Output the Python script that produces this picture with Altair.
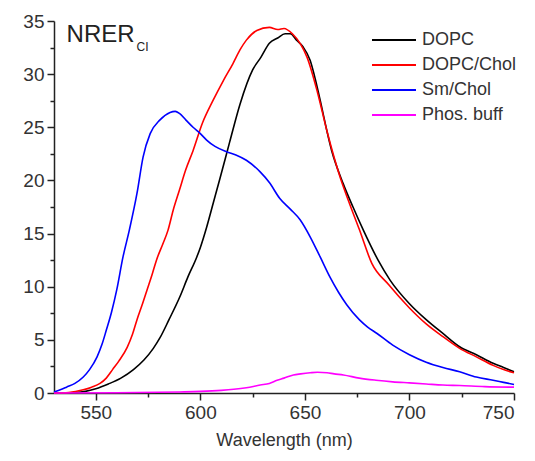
import altair as alt
import pandas as pd

dopc_nm = [530, 540, 545, 550, 556, 562, 568, 573, 577.5, 580.7, 585, 590.3, 594, 598.3, 600, 603, 606.2, 609.4, 614, 619, 625, 629, 633, 637, 640.5, 643, 646, 649, 652.5, 655, 657, 662.8, 668.3, 673, 678, 685, 690.8, 700, 708, 716, 724, 732, 740, 745, 750]
dopc_v = [0.0, 0.05, 0.15, 0.4, 0.85, 1.4, 2.2, 3.1, 4.2, 5.2, 6.9, 9.1, 10.9, 12.8, 13.7, 15.6, 17.9, 20.2, 23.6, 27.2, 30.4, 31.6, 32.9, 33.4, 33.8, 33.8, 33.2, 32.6, 31.3, 29.5, 27.8, 22.8, 19.7, 17.5, 15.3, 12.5, 10.6, 8.4, 6.9, 5.6, 4.35, 3.6, 2.8, 2.4, 2.0]

chol_nm = [530, 537, 544, 548, 552, 555, 558, 561, 565, 567.5, 569.7, 572, 574.5, 577, 579, 582, 584.5, 587, 590, 593, 596.5, 601, 606, 611, 615.6, 619, 622, 627, 633, 637, 640, 644, 648, 651, 656, 660.6, 667, 671, 676, 682, 690, 700, 708, 716, 724, 732, 740, 745, 750]
chol_v = [0.0, 0.05, 0.3, 0.55, 0.9, 1.4, 2.2, 3.0, 4.3, 5.5, 6.9, 8.2, 9.7, 11.2, 12.5, 14.0, 15.3, 17.2, 19.1, 21.0, 22.8, 25.4, 27.5, 29.4, 31.0, 32.3, 33.2, 34.1, 34.4, 34.2, 34.3, 33.8, 32.8, 31.6, 28.3, 24.6, 20.2, 18.0, 15.4, 12.2, 10.2, 8.0, 6.5, 5.3, 4.2, 3.4, 2.6, 2.2, 1.9]

sm_nm = [530, 533, 536, 540, 544, 547, 550.6, 553, 555, 557.5, 560, 563, 566, 569.7, 572.6, 576, 580.7, 585.5, 588, 590, 593, 596.5, 600, 603, 607, 612.6, 617, 622, 628.6, 633, 638, 643, 647.7, 652.5, 657.3, 662, 666, 670, 676, 680, 684.5, 692, 700, 708, 716, 724, 732, 740, 745, 750]
sm_v = [0.1, 0.3, 0.55, 0.9, 1.5, 2.2, 3.4, 4.6, 5.9, 7.6, 9.7, 12.8, 15.3, 18.8, 22.2, 24.4, 25.7, 26.4, 26.5, 26.3, 25.7, 25.0, 24.4, 23.8, 23.2, 22.7, 22.4, 21.9, 20.8, 19.8, 18.3, 17.3, 16.3, 14.7, 12.8, 10.9, 9.5, 8.3, 6.9, 6.2, 5.6, 4.5, 3.6, 2.9, 2.4, 2.0, 1.5, 1.2, 1.0, 0.8]

buff_nm = [530, 560, 590, 600, 610, 616, 622, 628.6, 633, 636.7, 640, 644.5, 648, 652.5, 656, 660.6, 664, 668.4, 676, 684, 692, 700, 708, 716, 724, 736, 750]
buff_v = [0.0, 0.02, 0.1, 0.15, 0.25, 0.35, 0.5, 0.75, 0.9, 1.2, 1.4, 1.7, 1.8, 1.9, 1.95, 1.9, 1.8, 1.7, 1.4, 1.2, 1.05, 0.95, 0.85, 0.75, 0.7, 0.6, 0.55]

series_names = ["DOPC", "DOPC/Chol", "Sm/Chol", "Phos. buff"]
series_colors = ["#000000", "#ff0000", "#0000ff", "#ff00ff"]

x_major = [550, 600, 650, 700, 750]
x_minor = [575, 625, 675, 725]
y_major = [0, 5, 10, 15, 20, 25, 30, 35]
y_minor = [2.5, 7.5, 12.5, 17.5, 22.5, 27.5, 32.5]

frames = []
for name, xs, ys in [("DOPC", dopc_nm, dopc_v), ("DOPC/Chol", chol_nm, chol_v),
                     ("Sm/Chol", sm_nm, sm_v), ("Phos. buff", buff_nm, buff_v)]:
    frames.append(pd.DataFrame({"nm": xs, "v": ys, "series": name, "order": list(range(len(xs)))}))
df = pd.concat(frames, ignore_index=True)

xscale = alt.Scale(domain=[530, 750], nice=False, zero=False)
yscale = alt.Scale(domain=[0, 35], nice=False)

lines = alt.Chart(df).mark_line(strokeWidth=1.6, interpolate="monotone").encode(
    x=alt.X("nm:Q", scale=xscale, title="Wavelength (nm)",
            axis=alt.Axis(values=x_major, orient="bottom", tickSize=7,
                          grid=False, labelFontSize=19, titleFontSize=18, titlePadding=9)),
    y=alt.Y("v:Q", scale=yscale, title=None,
            axis=alt.Axis(values=y_major, orient="left", tickSize=7,
                          grid=False, labelFontSize=19)),
    color=alt.Color("series:N", scale=alt.Scale(domain=series_names, range=series_colors),
                    legend=alt.Legend(title=None, orient="none", legendX=331, legendY=10,
                                      symbolType="M-3,0H3", symbolSize=215, symbolStrokeWidth=2,
                                      labelFontSize=18, labelOffset=19, rowPadding=7, padding=0)),
    detail="series:N",
    order="order:Q",
)

label_main = pd.DataFrame({"nm": [536], "v": [33.0], "t": ["NRER"]})
label_sub = pd.DataFrame({"nm": [569.5], "v": [32.2], "t": ["CI"]})

minor_axis_x = alt.Axis(values=x_minor, orient="bottom", tickSize=4, labels=False,
                        domain=False, grid=False, title=None)
minor_axis_y = alt.Axis(values=y_minor, orient="left", tickSize=4, labels=False,
                        domain=False, grid=False, title=None)

t1 = alt.Chart(label_main).mark_text(align="left", baseline="alphabetic", fontSize=24,
                                     font="Liberation Sans", color="#222").encode(
    x=alt.X("nm:Q", scale=xscale, axis=minor_axis_x),
    y=alt.Y("v:Q", scale=yscale, axis=minor_axis_y), text="t:N")
t2 = alt.Chart(label_sub).mark_text(align="left", baseline="alphabetic", fontSize=12,
                                    font="Liberation Sans", color="#222").encode(
    x=alt.X("nm:Q", scale=xscale, axis=None),
    y=alt.Y("v:Q", scale=yscale, axis=None), text="t:N")

chart = alt.layer(lines, t1, t2).resolve_axis(x="independent", y="independent").properties(
    width=460, height=372,
    autosize=alt.AutoSizeParams(type="none"),
    padding={"left": 46, "top": 13, "right": 10, "bottom": 64},
).configure_view(stroke=None).configure_axis(
    domainColor="#222", domainWidth=1.5, tickColor="#222", tickWidth=1.5,
    labelColor="#333", titleColor="#333", labelFont="Liberation Sans", titleFont="Liberation Sans",
    titleFontWeight="normal", labelPadding=3,
).configure_legend(labelFont="Liberation Sans", labelColor="#333")

chart.save("out.html", embed_options={"renderer": "svg", "actions": False})
